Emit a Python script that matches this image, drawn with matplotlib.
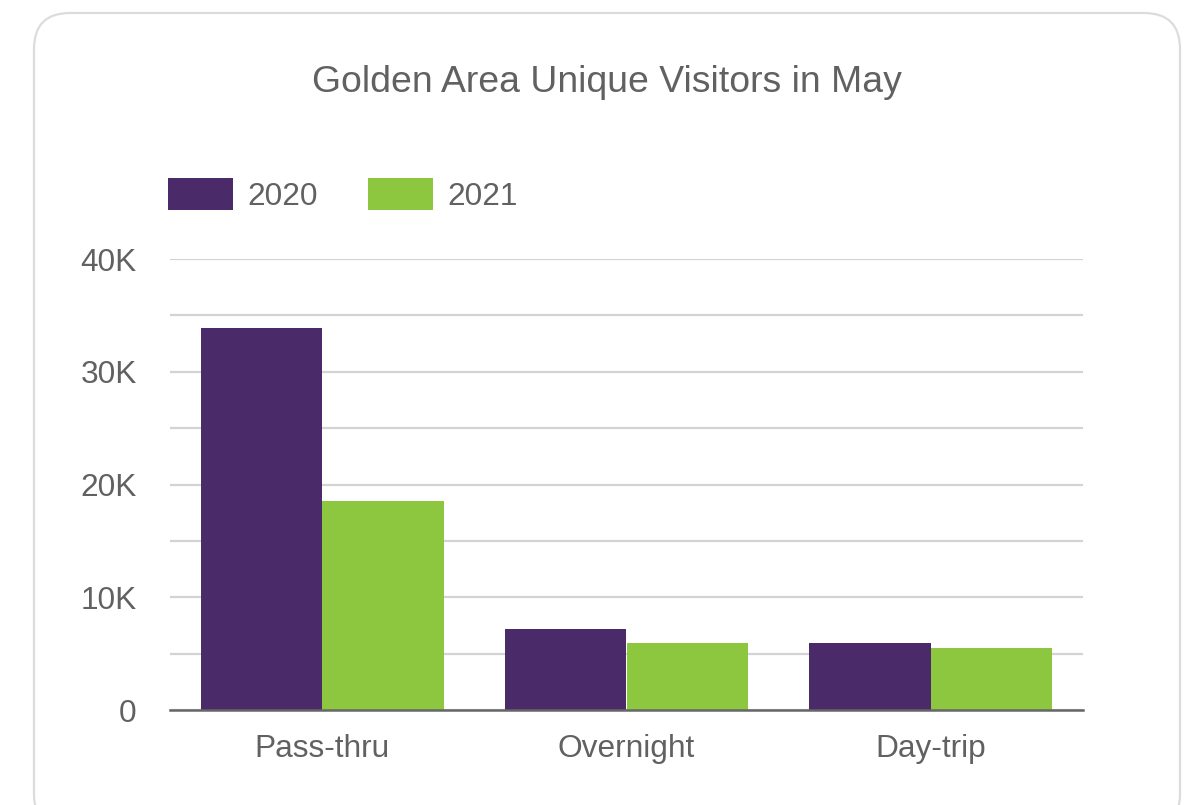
import matplotlib.pyplot as plt
import numpy as np
from matplotlib.patches import FancyBboxPatch
from matplotlib.ticker import FixedLocator

plt.rcParams['font.family'] = ['Liberation Sans', 'DejaVu Sans']

categories = ['Pass-thru', 'Overnight', 'Day-trip']
visitors_2020 = [33900, 7200, 5950]
visitors_2021 = [18550, 5950, 5500]
y_ticks = [0, 10000, 20000, 30000, 40000]
y_tick_labels = ['0', '10K', '20K', '30K', '40K']

purple = '#4b2a6a'
green = '#8dc63f'
text_gray = '#616161'

W, H = 1199, 805
fig = plt.figure(figsize=(W / 100, H / 100), dpi=100)

# rounded card border
card = FancyBboxPatch((34 / W, 1 - 830 / H), (1180 - 34) / W, (830 - 13) / H,
                      boxstyle='round,pad=0,rounding_size=0.03',
                      transform=fig.transFigure, facecolor='none',
                      edgecolor='#dcdcdc', linewidth=1.6, mutation_aspect=W / H,
                      zorder=-1)
fig.patches.append(card)

ax = fig.add_axes([170 / W, 1 - 710 / H, (1083 - 170) / W, (710 - 259) / H])
x = np.arange(len(categories))
w = 0.398
ax.bar(x - 0.2, visitors_2020, w, color=purple, label='2020', zorder=3)
ax.bar(x + 0.2, visitors_2021, w, color=green, label='2021', zorder=3)

ax.set_xlim(-0.5, len(categories) - 0.5)
ax.set_ylim(0, 40000)
ax.set_xticks(x)
ax.set_xticklabels(categories)
ax.set_yticks(y_ticks)
ax.set_yticklabels(y_tick_labels)
ax.yaxis.set_minor_locator(FixedLocator([5000, 15000, 25000, 35000]))
ax.grid(axis='y', which='both', color='#d3d3d3', linewidth=1.6, zorder=0)
ax.tick_params(axis='both', which='both', length=0, labelsize=22.8, colors=text_gray)
ax.tick_params(axis='y', pad=24)
ax.tick_params(axis='x', pad=17)
for side in ['left', 'right', 'top']:
    ax.spines[side].set_visible(False)
ax.spines['bottom'].set_color('#666666')
ax.spines['bottom'].set_linewidth(1.8)
ax.spines['bottom'].set_zorder(4)
ax.set_facecolor('none')

fig.text(607 / W, 1 - 83 / H, 'Golden Area Unique Visitors in May',
         ha='center', va='center', fontsize=26.9, color=text_gray)

leg = fig.legend(loc='center left', bbox_to_anchor=(168 / W, 1 - 195 / H), ncol=2,
                 frameon=False, fontsize=22.8, handlelength=2.05, handleheight=1.15,
                 handletextpad=0.45, columnspacing=1.6, borderpad=0, borderaxespad=0)
for t in leg.get_texts():
    t.set_color(text_gray)

fig.savefig('out.png', dpi=100)
